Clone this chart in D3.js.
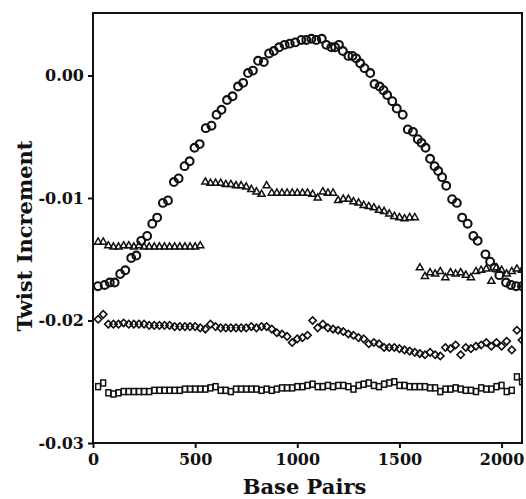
<!DOCTYPE html>
<html>
<head>
<meta charset="utf-8">
<script src="https://cdn.jsdelivr.net/npm/d3@7"></script>
<style>
  body { margin: 0; background: #fff; }
  text { font-family: "DejaVu Serif", serif; font-weight: bold; fill: #111; }
</style>
</head>
<body>
<div id="chart"></div>
<script>
// circles (large peaked curve)
var circleBp = [24, 57, 82, 106, 133, 158, 187, 212, 236, 265, 290, 314, 342, 367, 396, 419, 448, 473, 497, 522,
  552, 580, 605, 629, 656, 683, 710, 735, 759, 783, 808, 836, 862, 885, 911, 938, 963, 990, 1020, 1044,
  1069, 1093, 1120, 1142, 1167, 1185, 1204, 1223, 1250, 1270, 1288, 1308, 1329, 1357, 1378, 1403, 1422, 1440, 1465, 1487,
  1516, 1541, 1566, 1590, 1608, 1628, 1650, 1672, 1690, 1709, 1729, 1758, 1781, 1807, 1834, 1862, 1883, 1921, 1944, 1965,
  1989, 2022, 2046, 2071, 2100];
var circleVal = [-0.0172, -0.0171, -0.0169, -0.0169, -0.0162, -0.0159, -0.0149, -0.0147, -0.0135, -0.0131,
  -0.0121, -0.0116, -0.0104, -0.0102, -0.0087, -0.0084, -0.0074, -0.0070, -0.0059, -0.0056,
  -0.0043, -0.0041, -0.0032, -0.0028, -0.0020, -0.0017, -0.0009, -0.0006, 0.0002, 0.0004,
  0.0012, 0.0011, 0.0018, 0.0020, 0.0023, 0.0025, 0.0026, 0.0027, 0.0029, 0.0029,
  0.0030, 0.0029, 0.0030, 0.0025, 0.0023, 0.0023, 0.0025, 0.0020, 0.0016, 0.0016,
  0.0014, 0.0010, 0.0006, 0.0002, -0.0007, -0.0009, -0.0012, -0.0016, -0.0021, -0.0027,
  -0.0032, -0.0044, -0.0046, -0.0052, -0.0055, -0.0059, -0.0068, -0.0074, -0.0078, -0.0083,
  -0.0090, -0.0101, -0.0104, -0.0116, -0.0121, -0.0131, -0.0135, -0.0146, -0.0152, -0.0157,
  -0.0163, -0.0169, -0.0171, -0.0172, -0.0172];

// shared 25 bp grid for the other three series
var gridBp = [25, 50, 75, 100, 125, 150, 175, 200, 225, 250, 275, 300, 325, 350, 375, 400, 425, 450, 475, 500,
  525, 550, 575, 600, 625, 650, 675, 700, 725, 750, 775, 800, 825, 850, 875, 900, 925, 950, 975, 1000,
  1025, 1050, 1075, 1100, 1125, 1150, 1175, 1200, 1225, 1250, 1275, 1300, 1325, 1350, 1375, 1400, 1425, 1450, 1475, 1500,
  1525, 1550, 1575, 1600, 1625, 1650, 1675, 1700, 1725, 1750, 1775, 1800, 1825, 1850, 1875, 1900, 1925, 1950, 1975, 2000,
  2025, 2050, 2075, 2100];

// triangles (three pieces)
var triangleVal = [-0.0136, -0.0136, -0.0139, -0.0140, -0.0140, -0.0139, -0.0139, -0.0140, -0.0139, -0.0140,
  -0.0140, -0.0140, -0.0140, -0.0140, -0.0140, -0.0140, -0.0140, -0.0140, -0.0140, -0.0140,
  -0.0139, -0.0087, -0.0088, -0.0088, -0.0088, -0.0089, -0.0089, -0.0090, -0.0090, -0.0091,
  -0.0093, -0.0095, -0.0097, -0.0090, -0.0096, -0.0096, -0.0096, -0.0096, -0.0096, -0.0096,
  -0.0096, -0.0096, -0.0097, -0.0100, -0.0095, -0.0096, -0.0096, -0.0102, -0.0101, -0.0101,
  -0.0103, -0.0104, -0.0106, -0.0107, -0.0108, -0.0110, -0.0111, -0.0113, -0.0115, -0.0116,
  -0.0117, -0.0116, -0.0116, -0.0157, -0.0164, -0.0161, -0.0162, -0.0160, -0.0165, -0.0161,
  -0.0162, -0.0161, -0.0163, -0.0165, -0.0160, -0.0159, -0.0158, -0.0168, -0.0157, -0.0159,
  -0.0162, -0.0160, -0.0158, -0.0159];

// diamonds
var diamondVal = [-0.0199, -0.0195, -0.0203, -0.0203, -0.0203, -0.0202, -0.0203, -0.0203, -0.0203, -0.0203,
  -0.0204, -0.0204, -0.0204, -0.0204, -0.0204, -0.0205, -0.0205, -0.0205, -0.0205, -0.0205,
  -0.0206, -0.0207, -0.0203, -0.0205, -0.0206, -0.0206, -0.0206, -0.0206, -0.0206, -0.0206,
  -0.0205, -0.0206, -0.0205, -0.0205, -0.0207, -0.0210, -0.0211, -0.0213, -0.0218, -0.0215,
  -0.0214, -0.0212, -0.0200, -0.0206, -0.0203, -0.0206, -0.0207, -0.0208, -0.0209, -0.0211,
  -0.0212, -0.0214, -0.0215, -0.0219, -0.0218, -0.0219, -0.0222, -0.0222, -0.0222, -0.0223,
  -0.0224, -0.0225, -0.0226, -0.0227, -0.0228, -0.0226, -0.0228, -0.0229, -0.0222, -0.0223,
  -0.0220, -0.0228, -0.0222, -0.0223, -0.0221, -0.0220, -0.0218, -0.0221, -0.0218, -0.0221,
  -0.0217, -0.0224, -0.0208, -0.0216];

// squares
var squareVal = [-0.0254, -0.0251, -0.0259, -0.0260, -0.0259, -0.0258, -0.0258, -0.0258, -0.0258, -0.0258,
  -0.0258, -0.0257, -0.0257, -0.0257, -0.0257, -0.0257, -0.0257, -0.0256, -0.0256, -0.0256,
  -0.0256, -0.0256, -0.0255, -0.0254, -0.0257, -0.0257, -0.0258, -0.0256, -0.0256, -0.0256,
  -0.0256, -0.0256, -0.0257, -0.0256, -0.0257, -0.0256, -0.0255, -0.0255, -0.0255, -0.0254,
  -0.0254, -0.0253, -0.0252, -0.0254, -0.0254, -0.0253, -0.0254, -0.0253, -0.0253, -0.0254,
  -0.0256, -0.0253, -0.0252, -0.0251, -0.0253, -0.0254, -0.0252, -0.0251, -0.0250, -0.0253,
  -0.0253, -0.0254, -0.0254, -0.0254, -0.0254, -0.0255, -0.0255, -0.0258, -0.0256, -0.0256,
  -0.0255, -0.0256, -0.0257, -0.0257, -0.0258, -0.0255, -0.0256, -0.0256, -0.0254, -0.0253,
  -0.0258, -0.0257, -0.0246, -0.0250];

var xTicks = [0, 500, 1000, 1500, 2000];
var yTicks = [0, -0.01, -0.02, -0.03];

var margin = { top: 13, right: 4, bottom: 56, left: 93 };
var width = 526, height = 499;
var w = width - margin.left - margin.right;
var h = height - margin.top - margin.bottom;

var x = d3.scaleLinear().domain([0, 2100]).range([0, w]);
var y = d3.scaleLinear().domain([-0.03, 0.0051]).range([h, 0]);

var svg = d3.select("#chart").append("svg")
  .attr("width", width).attr("height", height);
var g = svg.append("g")
  .attr("transform", "translate(" + margin.left + "," + margin.top + ")");

g.append("clipPath").attr("id", "clip")
  .append("rect").attr("width", w).attr("height", h);

var plot = g.append("g").attr("clip-path", "url(#clip)");

function pts(bps, vals) {
  var out = [];
  bps.forEach(function(b, i) {
    if (vals[i] != null) out.push({ bp: b, v: vals[i] });
  });
  return out;
}

// circles
plot.selectAll(".circ").data(pts(circleBp, circleVal)).enter()
  .append("circle")
  .attr("cx", function(d) { return x(d.bp); })
  .attr("cy", function(d) { return y(d.v); })
  .attr("r", 3.9)
  .attr("fill", "none").attr("stroke", "#111").attr("stroke-width", 2.1);

// triangles
plot.selectAll(".tri").data(pts(gridBp, triangleVal)).enter()
  .append("path")
  .attr("d", d3.symbol().type(d3.symbolTriangle).size(22))
  .attr("transform", function(d) { return "translate(" + x(d.bp) + "," + y(d.v) + ")"; })
  .attr("fill", "none").attr("stroke", "#111").attr("stroke-width", 1.5);

// diamonds
plot.selectAll(".dia").data(pts(gridBp, diamondVal)).enter()
  .append("rect")
  .attr("x", -2.6).attr("y", -2.6).attr("width", 5.2).attr("height", 5.2)
  .attr("transform", function(d) { return "translate(" + x(d.bp) + "," + y(d.v) + ") rotate(45)"; })
  .attr("fill", "none").attr("stroke", "#111").attr("stroke-width", 1.6);

// squares
plot.selectAll(".sq").data(pts(gridBp, squareVal)).enter()
  .append("rect")
  .attr("x", function(d) { return x(d.bp) - 2.4; })
  .attr("y", function(d) { return y(d.v) - 3; })
  .attr("width", 4.8).attr("height", 6)
  .attr("fill", "none").attr("stroke", "#111").attr("stroke-width", 1.5);

// frame
g.append("rect").attr("width", w).attr("height", h)
  .attr("fill", "none").attr("stroke", "#111").attr("stroke-width", 2);

var xAxis = g.append("g").attr("transform", "translate(0," + h + ")")
  .call(d3.axisBottom(x).tickValues(xTicks).tickFormat(d3.format("d")).tickSize(5).tickPadding(6));
var yAxis = g.append("g")
  .call(d3.axisLeft(y).tickValues(yTicks)
    .tickFormat(function(d) { return d.toFixed(2); }).tickSize(5).tickPadding(4));

[xAxis, yAxis].forEach(function(a) {
  a.select(".domain").remove();
  a.selectAll("line").attr("stroke", "#111").attr("stroke-width", 2);
  a.selectAll("text").attr("font-family", "DejaVu Serif").attr("font-weight", "bold")
    .attr("font-size", 16).attr("fill", "#111");
});

svg.append("text").attr("x", margin.left + w / 2 - 3).attr("y", 494)
  .attr("text-anchor", "middle").attr("font-size", 21).text("Base Pairs");
svg.append("text")
  .attr("transform", "translate(32,236) rotate(-90)")
  .attr("text-anchor", "middle").attr("font-size", 21).text("Twist Increment");
</script>
</body>
</html>
